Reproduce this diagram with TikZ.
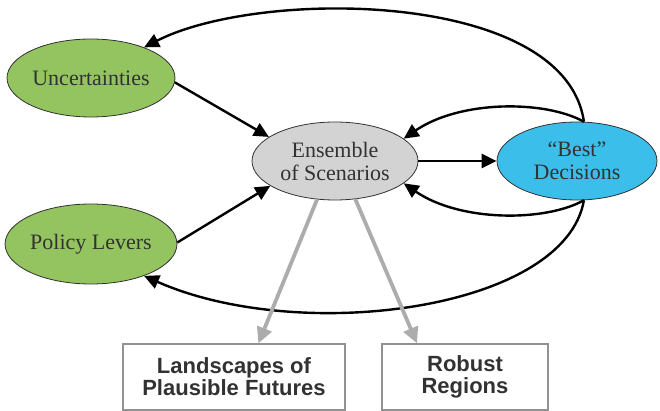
\documentclass[tikz,border=0pt]{standalone}
\usepackage{fontspec}
\setmainfont{Liberation Serif}
\setsansfont{Liberation Sans}
\usetikzlibrary{shapes.geometric,arrows.meta}
\definecolor{leafgreen}{RGB}{148,196,96}
\definecolor{cloudgray}{RGB}{211,211,211}
\definecolor{skyblue}{RGB}{60,190,235}
\definecolor{inkgray}{RGB}{50,50,50}
\definecolor{arrowgray}{RGB}{172,172,172}
\begin{document}
\begin{tikzpicture}[x=1pt, y=-1pt,
	oval/.style={ellipse, draw=inkgray, line width=0.8pt, text=inkgray, align=center, inner sep=0pt, font=\fontsize{22}{23}\selectfont},
	outbox/.style={rectangle, draw=arrowgray!85!black, line width=1.2pt, text=inkgray, align=center, inner sep=0pt, font=\sffamily\bfseries\fontsize{22}{22}\selectfont},
	flow/.style={draw=black, line width=2.4pt, -{Triangle[length=15pt,width=14pt]}},
	result/.style={draw=arrowgray, line width=3.8pt, -{Triangle[length=16pt,width=15pt]}}]
			\useasboundingbox (0,0) rectangle (660,411);
			\node[oval, fill=leafgreen, minimum width=168pt, minimum height=78pt] (unc) at (91,78){Uncertainties};
			\node[oval, fill=leafgreen, minimum width=168pt, minimum height=80pt] (pol) at (91,244){Policy Levers};
			\node[oval, fill=cloudgray, minimum width=166pt, minimum height=78pt] (ens) at (335,161){Ensemble\\of Scenarios};
			\node[oval, fill=skyblue, minimum width=160pt, minimum height=78pt] (best) at (577,161){``Best''\\Decisions};
			\node[outbox, minimum width=222pt, minimum height=66pt] (land) at (234,377){Landscapes of\\Plausible Futures};
			\node[outbox, minimum width=166pt, minimum height=66pt] (rob) at (465,377){Robust\\Regions};
			
			\path[flow] (unc.-3) -- (ens.160);
			\path[flow] (pol.1) -- (ens.-159);
			\path[flow] (ens.east) -- (best.west);
			\path[flow] (best.80) .. controls (545,100) and (460,100) .. (ens.18);
			\path[flow] (best.-80) .. controls (545,222) and (460,222) .. (ens.-18);
			\path[flow] (best.80) .. controls (565,-10) and (260,-12) .. (unc.30);
			\path[flow] (best.-80) .. controls (565,310) and (300,345) .. (pol.-31);
			\path[result] (ens.-115) -- (land.54);
			\path[result] (ens.-62) -- (rob.145);
			\end{tikzpicture}
\end{document}
